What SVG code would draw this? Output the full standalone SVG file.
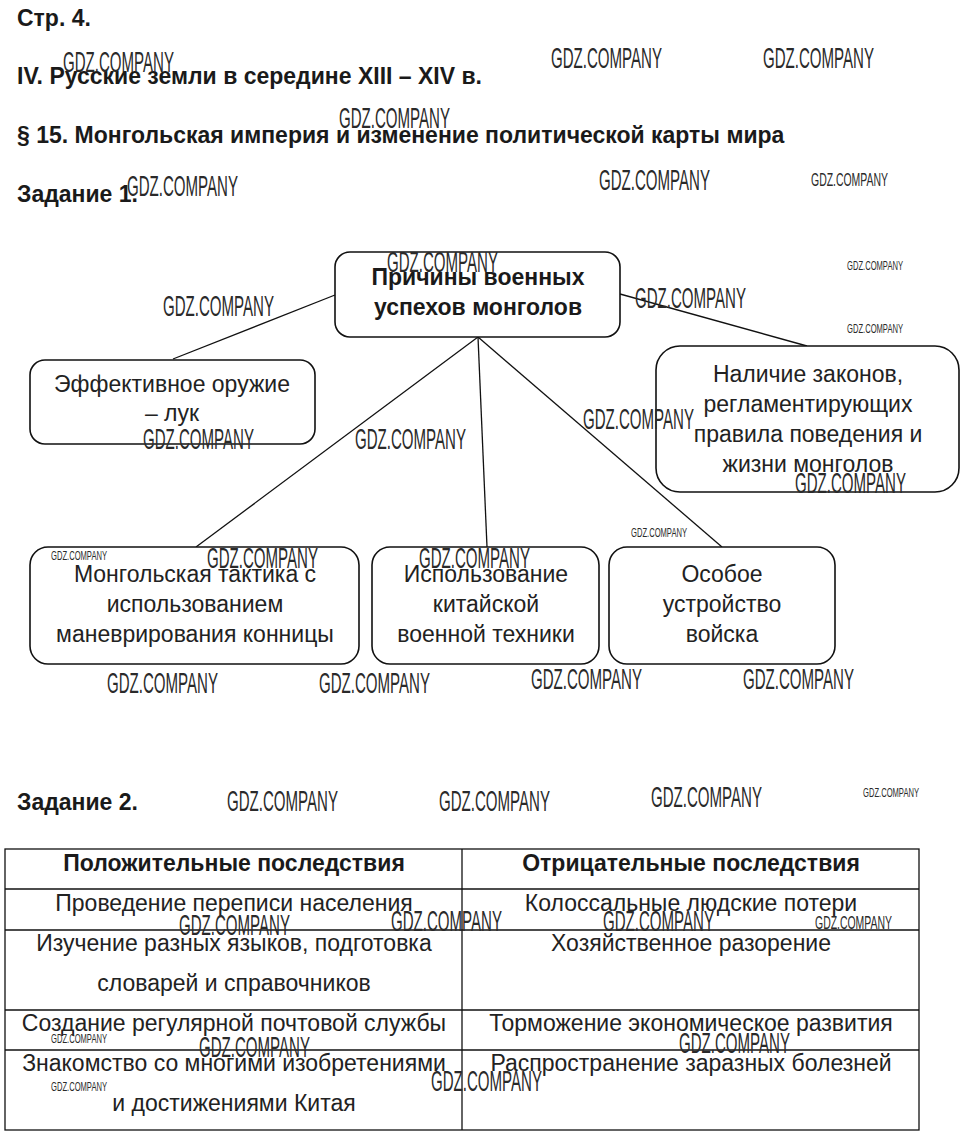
<svg xmlns="http://www.w3.org/2000/svg" width="971" height="1145" viewBox="0 0 971 1145">
<style>
.h{font-family:"Liberation Sans",Arial,sans-serif;font-weight:bold;font-size:23px;fill:#1a1a1a}
.t{font-family:"Liberation Sans",Arial,sans-serif;font-size:23px;fill:#222;text-anchor:middle}
.tb{font-family:"Liberation Sans",Arial,sans-serif;font-size:23px;font-weight:bold;fill:#1a1a1a;text-anchor:middle}
.box{fill:#fff;stroke:#111;stroke-width:1.6}
.ln{stroke:#111;stroke-width:1.3;fill:none}
.wl{font-family:"Liberation Sans",Arial,sans-serif;font-size:30px;fill:#2a2a2a}
.ws{font-family:"Liberation Sans",Arial,sans-serif;font-size:19px;fill:#2a2a2a}
.wt{font-family:"Liberation Sans",Arial,sans-serif;font-size:12px;fill:#2a2a2a}
</style>
<rect width="971" height="1145" fill="#fff"/>
<g id="headings">
<text class="h" x="17" y="26">Стр. 4.</text>
<text class="h" x="17" y="84">IV. Русские земли в середине XIII – XIV в.</text>
<text class="h" x="17" y="143">§ 15. Монгольская империя и изменение политической карты мира</text>
<text class="h" x="17" y="202">Задание 1.</text>
<text class="h" x="17" y="810">Задание 2.</text>
</g>
<g id="connectors">
<line class="ln" x1="335" y1="295" x2="173" y2="359"/>
<line class="ln" x1="620" y1="294" x2="807" y2="346"/>
<line class="ln" x1="478" y1="337" x2="196" y2="547"/>
<line class="ln" x1="478" y1="337" x2="487" y2="547"/>
<line class="ln" x1="478" y1="337" x2="722" y2="547"/>
</g>
<g id="n-center">
<rect class="box" x="335" y="252" width="285" height="85" rx="15"/>
<text class="tb" x="478" y="285">Причины военных</text>
<text class="tb" x="478" y="315">успехов монголов</text>
</g>
<g id="n-weapon">
<rect class="box" x="30" y="360" width="285" height="84" rx="15"/>
<text class="t" x="172" y="392">Эффективное оружие</text>
<text class="t" x="172" y="421">– лук</text>
</g>
<g id="n-laws">
<rect class="box" x="656" y="346" width="303" height="146" rx="24"/>
<text class="t" x="808" y="382">Наличие законов,</text>
<text class="t" x="808" y="412">регламентирующих</text>
<text class="t" x="808" y="442">правила поведения и</text>
<text class="t" x="808" y="472">жизни монголов</text>
</g>
<g id="n-tactics">
<rect class="box" x="30" y="547" width="329" height="117" rx="18"/>
<text class="t" x="195" y="582">Монгольская тактика с</text>
<text class="t" x="195" y="612">использованием</text>
<text class="t" x="195" y="642">маневрирования конницы</text>
</g>
<g id="n-chinese">
<rect class="box" x="372" y="547" width="227" height="117" rx="18"/>
<text class="t" x="486" y="582">Использование</text>
<text class="t" x="486" y="612">китайской</text>
<text class="t" x="486" y="642">военной техники</text>
</g>
<g id="n-army">
<rect class="box" x="609" y="547" width="226" height="117" rx="18"/>
<text class="t" x="722" y="582">Особое</text>
<text class="t" x="722" y="612">устройство</text>
<text class="t" x="722" y="642">войска</text>
</g>
<g id="table">
<g class="ln">
<rect x="5" y="849" width="914" height="281"/>
<line x1="462" y1="849" x2="462" y2="1130"/>
<line x1="5" y1="889" x2="919" y2="889"/>
<line x1="5" y1="930" x2="919" y2="930"/>
<line x1="5" y1="1010" x2="919" y2="1010"/>
<line x1="5" y1="1050" x2="919" y2="1050"/>
</g>
<text class="tb" x="234" y="871">Положительные последствия</text>
<text class="tb" x="691" y="871">Отрицательные последствия</text>
<text class="t" x="234" y="911">Проведение переписи населения</text>
<text class="t" x="691" y="911">Колоссальные людские потери</text>
<text class="t" x="234" y="951">Изучение разных языков, подготовка</text>
<text class="t" x="234" y="991">словарей и справочников</text>
<text class="t" x="691" y="951">Хозяйственное разорение</text>
<text class="t" x="234" y="1031">Создание регулярной почтовой службы</text>
<text class="t" x="691" y="1031">Торможение экономическое развития</text>
<text class="t" x="234" y="1071">Знакомство со многими изобретениями</text>
<text class="t" x="234" y="1111">и достижениями Китая</text>
<text class="t" x="691" y="1071">Распространение заразных болезней</text>
</g>
<g id="watermarks">
<text class="wl" x="63" y="72" textLength="111" lengthAdjust="spacingAndGlyphs">GDZ.COMPANY</text>
<text class="wl" x="551" y="68" textLength="111" lengthAdjust="spacingAndGlyphs">GDZ.COMPANY</text>
<text class="wl" x="763" y="68" textLength="111" lengthAdjust="spacingAndGlyphs">GDZ.COMPANY</text>
<text class="wl" x="339" y="128" textLength="111" lengthAdjust="spacingAndGlyphs">GDZ.COMPANY</text>
<text class="wl" x="127" y="196" textLength="111" lengthAdjust="spacingAndGlyphs">GDZ.COMPANY</text>
<text class="wl" x="599" y="190" textLength="111" lengthAdjust="spacingAndGlyphs">GDZ.COMPANY</text>
<text class="ws" x="811" y="186" textLength="77" lengthAdjust="spacingAndGlyphs">GDZ.COMPANY</text>
<text class="wl" x="387" y="272" textLength="111" lengthAdjust="spacingAndGlyphs">GDZ.COMPANY</text>
<text class="wt" x="847" y="270" textLength="56" lengthAdjust="spacingAndGlyphs">GDZ.COMPANY</text>
<text class="wl" x="163" y="316" textLength="111" lengthAdjust="spacingAndGlyphs">GDZ.COMPANY</text>
<text class="wl" x="635" y="308" textLength="111" lengthAdjust="spacingAndGlyphs">GDZ.COMPANY</text>
<text class="wt" x="847" y="333" textLength="56" lengthAdjust="spacingAndGlyphs">GDZ.COMPANY</text>
<text class="wl" x="143" y="449" textLength="111" lengthAdjust="spacingAndGlyphs">GDZ.COMPANY</text>
<text class="wl" x="355" y="449" textLength="111" lengthAdjust="spacingAndGlyphs">GDZ.COMPANY</text>
<text class="wl" x="583" y="429" textLength="111" lengthAdjust="spacingAndGlyphs">GDZ.COMPANY</text>
<text class="wl" x="795" y="493" textLength="111" lengthAdjust="spacingAndGlyphs">GDZ.COMPANY</text>
<text class="wt" x="631" y="537" textLength="56" lengthAdjust="spacingAndGlyphs">GDZ.COMPANY</text>
<text class="wt" x="51" y="560" textLength="56" lengthAdjust="spacingAndGlyphs">GDZ.COMPANY</text>
<text class="wl" x="207" y="568" textLength="111" lengthAdjust="spacingAndGlyphs">GDZ.COMPANY</text>
<text class="wl" x="419" y="568" textLength="111" lengthAdjust="spacingAndGlyphs">GDZ.COMPANY</text>
<text class="wl" x="107" y="693" textLength="111" lengthAdjust="spacingAndGlyphs">GDZ.COMPANY</text>
<text class="wl" x="319" y="693" textLength="111" lengthAdjust="spacingAndGlyphs">GDZ.COMPANY</text>
<text class="wl" x="531" y="689" textLength="111" lengthAdjust="spacingAndGlyphs">GDZ.COMPANY</text>
<text class="wl" x="743" y="689" textLength="111" lengthAdjust="spacingAndGlyphs">GDZ.COMPANY</text>
<text class="wl" x="227" y="811" textLength="111" lengthAdjust="spacingAndGlyphs">GDZ.COMPANY</text>
<text class="wl" x="439" y="811" textLength="111" lengthAdjust="spacingAndGlyphs">GDZ.COMPANY</text>
<text class="wl" x="651" y="807" textLength="111" lengthAdjust="spacingAndGlyphs">GDZ.COMPANY</text>
<text class="wt" x="863" y="797" textLength="56" lengthAdjust="spacingAndGlyphs">GDZ.COMPANY</text>
<text class="wl" x="179" y="935" textLength="111" lengthAdjust="spacingAndGlyphs">GDZ.COMPANY</text>
<text class="wl" x="391" y="931" textLength="111" lengthAdjust="spacingAndGlyphs">GDZ.COMPANY</text>
<text class="wl" x="603" y="931" textLength="111" lengthAdjust="spacingAndGlyphs">GDZ.COMPANY</text>
<text class="ws" x="815" y="929" textLength="77" lengthAdjust="spacingAndGlyphs">GDZ.COMPANY</text>
<text class="wt" x="51" y="1043" textLength="56" lengthAdjust="spacingAndGlyphs">GDZ.COMPANY</text>
<text class="wl" x="199" y="1057" textLength="111" lengthAdjust="spacingAndGlyphs">GDZ.COMPANY</text>
<text class="wl" x="679" y="1053" textLength="111" lengthAdjust="spacingAndGlyphs">GDZ.COMPANY</text>
<text class="wt" x="51" y="1091" textLength="56" lengthAdjust="spacingAndGlyphs">GDZ.COMPANY</text>
<text class="wl" x="431" y="1091" textLength="111" lengthAdjust="spacingAndGlyphs">GDZ.COMPANY</text>
</g>
</svg>
